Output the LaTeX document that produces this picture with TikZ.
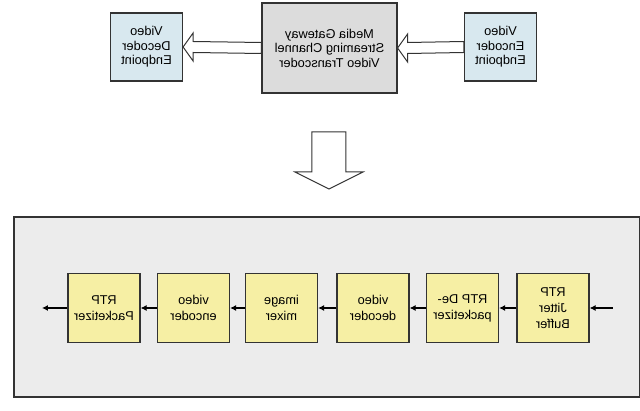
\documentclass[tikz,border=0pt]{standalone}
\usepackage{fontspec}
\setmainfont{Liberation Sans}
\usetikzlibrary{arrows.meta,calc}
\definecolor{endpointblue}{HTML}{D8E8EF}
\definecolor{gatewaygray}{HTML}{DCDCDC}
\definecolor{panelgray}{HTML}{ECECEC}
\definecolor{stageyellow}{HTML}{F6EFA4}
\definecolor{edgegray}{HTML}{333333}
\begin{document}
\begin{tikzpicture}[x=1pt, y=-1pt, xscale=-1,
  every node/.append style={transform shape},
  box/.style={draw=edgegray, line width=1.2pt, align=center, inner sep=0pt, font=\fontsize{12.8}{14.5}\selectfont},
  endpoint/.style={box, fill=endpointblue, minimum width=72pt, minimum height=68pt},
  gateway/.style={box, fill=gatewaygray, minimum width=135pt, minimum height=90pt},
  stage/.style={box, fill=stageyellow, minimum width=72pt, minimum height=69pt, font=\fontsize{12.8}{16}\selectfont},
  flow/.style={draw=black, line width=1.1pt, -{Latex[length=6pt,width=6pt]}},
  hollow/.style={draw=edgegray, line width=1pt, fill=white}]
\useasboundingbox (0,0) rectangle (640,411);
% top row
\node[endpoint] (enc) at (139.5,47) {Video\\Encoder\\Endpoint};
\node[gateway] (gw) at (310.5,48) {Media Gateway\\Streaming Channel\\Video Transcoder};
\node[endpoint] (dec) at (493.5,47) {Video\\Decoder\\Endpoint};
\foreach \a/\b in {enc/gw, gw/dec}
  \draw[hollow] ($(\a.east)+(0,5.5)$) -- ($(\b.west)+(-10,5.5)$) -- ($(\b.west)+(-10,14)$) -- (\b.west)
    -- ($(\b.west)+(-10,-14)$) -- ($(\b.west)+(-10,-5.5)$) -- ($(\a.east)+(0,-5.5)$) -- cycle;
% expansion arrow
\coordinate (dn) at (311,132);
\draw[hollow] ($(dn)+(-17,0)$) -- ($(dn)+(17,0)$) -- ($(dn)+(17,40)$) -- ($(dn)+(34,40)$) -- ($(dn)+(0,57)$)
  -- ($(dn)+(-34,40)$) -- ($(dn)+(-17,40)$) -- cycle;
% transcoder pipeline
\node[draw=edgegray, fill=panelgray, line width=1.2pt, minimum width=626pt, minimum height=180pt, inner sep=0pt] (panel) at (313,307) {};
\node[stage] (jit) at (87,308) {RTP\\Jitter\\Buffer};
\node[stage] (depk) at (177.5,308) {RTP De-\\packetizer};
\node[stage] (vdec) at (267,308) {video\\decoder};
\node[stage] (mix) at (358.5,308) {image\\mixer};
\node[stage] (venc) at (446.5,308) {video\\encoder};
\node[stage] (pk) at (536,308) {RTP\\Packetizer};
\coordinate (in) at (27,308);
\coordinate (out) at (598,308);
\draw[flow] (in) -- (jit);
\foreach \a/\b in {jit/depk, depk/vdec, vdec/mix, mix/venc, venc/pk}
  \draw[flow] (\a) -- (\b);
\draw[flow] (pk) -- (out);
\end{tikzpicture}
\end{document}
